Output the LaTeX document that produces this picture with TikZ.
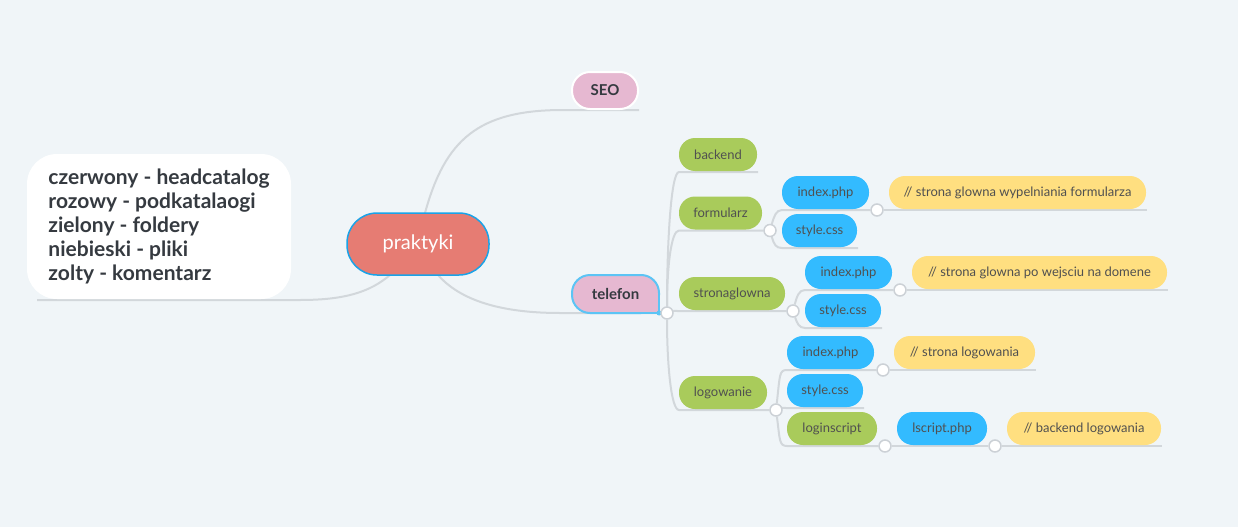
\documentclass[tikz,border=0pt]{standalone}
\usepackage{fontspec}
\setmainfont{Lato}
\usepackage{tikz}
\usetikzlibrary{positioning}
\usepackage{xcolor}

\definecolor{bgcol}{HTML}{F0F5F8}
\definecolor{linegray}{HTML}{D2D7DB}
\definecolor{knobgray}{HTML}{CCD1D6}
\definecolor{salmon}{HTML}{E67C73}
\definecolor{rootblue}{HTML}{1AA3E8}
\definecolor{telblue}{HTML}{5CC4F5}
\definecolor{pinkc}{HTML}{E6B8D1}
\definecolor{greenc}{HTML}{A9CB5B}
\definecolor{bluec}{HTML}{33BBFF}
\definecolor{yellowc}{HTML}{FFDF80}
\definecolor{textgray}{HTML}{505050}
\definecolor{legendgray}{HTML}{353A40}

\pgfdeclarelayer{lines}
\pgfsetlayers{lines,main}

\tikzset{
  branch/.style={draw=linegray, line width=2pt},
  pill/.style={rectangle, rounded corners=16pt, minimum height=33pt, inner sep=0pt,
    outer xsep=0pt, outer ysep=1pt, text=textgray, font=\fontsize{13}{15}\selectfont},
  folder/.style={pill, fill=greenc},
  file/.style={pill, fill=bluec},
  comment/.style={pill, fill=yellowc},
  topic/.style={rectangle, fill=pinkc, draw=white, line width=2pt, rounded corners=18pt,
    minimum height=37pt, inner sep=0pt, outer sep=0pt, text=legendgray,
    font=\fontsize{15}{17}\selectfont\bfseries},
  knob/.style={circle, fill=white, draw=knobgray, line width=1.5pt, minimum size=12pt, inner sep=0pt},
}

\begin{document}
\begin{tikzpicture}[x=1pt,y=-1pt]

\begin{pgfonlayer}{lines}
\fill[bgcol] (0,0) rectangle (1238,527);
\end{pgfonlayer}
\useasboundingbox (0,0) rectangle (1238,527);

% legend and centre
\node[rectangle, fill=white, rounded corners=30pt, minimum width=264pt, minimum height=145pt,
  inner sep=0pt, outer sep=0pt, align=left, text=legendgray,
  font=\fontsize{21}{24}\selectfont\bfseries] (legend) at (159,226.5)
  {czerwony - headcatalog\\rozowy - podkatalaogi\\zielony - foldery\\niebieski - pliki\\zolty - komentarz};
\node[rectangle, fill=salmon, draw=rootblue, line width=1.5pt, rounded corners=30pt,
  minimum width=142pt, minimum height=62pt, inner sep=0pt, outer sep=0pt, text=white,
  font=\fontsize{20}{22}\selectfont] (praktyki) at (418,244) {praktyki};

% first level
\node[topic, minimum width=66pt] (seo) at (605,90.5) {SEO};
\node[topic, draw=telblue, minimum width=87pt, minimum height=38pt] (telefon) at (615.5,294) {telefon};
\fill[pinkc] ([xshift=-19pt]telefon.south east) rectangle ([yshift=19pt]telefon.south east);
\draw[telblue, line width=2pt] ([xshift=-19pt]telefon.south east) -- (telefon.south east) -- ([yshift=19pt]telefon.south east);
\fill[telblue] (telefon.south east) circle (2.5pt);

% telefon
\node[folder, minimum width=78pt] (backend) at (718,154.5) {backend};
\node[folder, minimum width=83pt] (formularz) at (720.5,213) {formularz};
\node[folder, minimum width=106pt] (stronaglowna) at (732,293.5) {stronaglowna};
\node[folder, minimum width=88pt] (logowanie) at (723,392.5) {logowanie};

% formularz
\node[file, minimum width=87pt] (indexf) at (825.5,192.5) {index.php};
\node[file, minimum width=75pt] (stylef) at (819.5,230.5) {style.css};
\node[comment, minimum width=257pt] (commentf) at (1017.5,192.5) {// strona glowna wypelniania formularza};

% stronaglowna
\node[file, minimum width=87pt] (indexs) at (848.5,272.5) {index.php};
\node[file, minimum width=76pt] (styles) at (843,310.5) {style.css};
\node[comment, minimum width=255pt] (comments) at (1039.5,272.5) {// strona glowna po wejsciu na domene};

% logowanie
\node[file, minimum width=87pt] (indexl) at (830.5,352.5) {index.php};
\node[file, minimum width=76pt] (stylel) at (825,390.5) {style.css};
\node[folder, minimum width=90pt] (loginscript) at (832,428.5) {loginscript};
\node[comment, minimum width=141pt] (commentl) at (964.5,352.5) {// strona logowania};
\node[file, minimum width=90pt] (lscript) at (942,428.5) {lscript.php};
\node[comment, minimum width=154pt] (commentb) at (1084,428.5) {// backend logowania};

% knobs
\node[knob] (ktelefon) at ([xshift=8pt]telefon.south east) {};
\node[knob] (kformularz) at ([xshift=8pt]formularz.south east) {};
\node[knob] (kindexf) at ([xshift=8pt]indexf.south east) {};
\node[knob] (kstrona) at ([xshift=8pt]stronaglowna.south east) {};
\node[knob] (kindexs) at ([xshift=8pt]indexs.south east) {};
\node[knob] (klogowanie) at ([xshift=9pt]logowanie.south east) {};
\node[knob] (kindexl) at ([xshift=9pt]indexl.south east) {};
\node[knob] (kloginscript) at ([xshift=8pt]loginscript.south east) {};
\node[knob] (klscript) at ([xshift=8pt]lscript.south east) {};

\begin{pgfonlayer}{lines}
% centre
\draw[branch] ([xshift=-28pt]praktyki.south) .. controls +(-20,17) and +(45,0) .. ([xshift=9pt,yshift=-1pt]legend.south east) -- ([xshift=10pt,yshift=-1pt]legend.south west);
\draw[branch] ([xshift=7pt]praktyki.north) .. controls +(20,-73) and +(-85,0) .. ([xshift=-9pt,yshift=-1pt]seo.south west) -- ([xshift=1pt,yshift=-1pt]seo.south east);
\draw[branch] ([xshift=20pt]praktyki.south) .. controls +(22,25) and +(-60,0) .. ([xshift=-12pt]telefon.south west) -- (ktelefon);
% telefon
\draw[branch] (ktelefon) .. controls +(0,-70) and +(-8,0) .. (backend.south west) -- ([xshift=1pt]backend.south east);
\draw[branch] (ktelefon) .. controls +(0,-45) and +(-8,0) .. (formularz.south west) -- (kformularz);
\draw[branch] (ktelefon) .. controls +(5,-2) and +(-5,0) .. (stronaglowna.south west) -- (kstrona);
\draw[branch] (ktelefon) .. controls +(0,50) and +(-8,0) .. (logowanie.south west) -- (klogowanie);
% formularz
\draw[branch] (kformularz) .. controls +(4,-14) and +(-6,0) .. (indexf.south west) -- (kindexf);
\draw[branch] (kformularz) .. controls +(4,14) and +(-6,0) .. (stylef.south west) -- ([xshift=1pt]stylef.south east);
\draw[branch] (kindexf) -- (commentf.south west) -- ([xshift=1pt]commentf.south east);
% stronaglowna
\draw[branch] (kstrona) .. controls +(4,-15) and +(-6,0) .. (indexs.south west) -- (kindexs);
\draw[branch] (kstrona) .. controls +(4,12) and +(-6,0) .. (styles.south west) -- ([xshift=1pt]styles.south east);
\draw[branch] (kindexs) -- (comments.south west) -- ([xshift=1pt]comments.south east);
% logowanie
\draw[branch] (klogowanie) .. controls +(4,-35) and +(-8,0) .. (indexl.south west) -- (kindexl);
\draw[branch] (klogowanie) .. controls +(4,-2) and +(-5,0) .. (stylel.south west) -- ([xshift=1pt]stylel.south east);
\draw[branch] (klogowanie) .. controls +(4,30) and +(-8,0) .. (loginscript.south west) -- (kloginscript);
\draw[branch] (kindexl) -- (commentl.south west) -- ([xshift=1pt]commentl.south east);
\draw[branch] (kloginscript) -- (lscript.south west) -- (klscript);
\draw[branch] (klscript) -- (commentb.south west) -- ([xshift=1pt]commentb.south east);
\end{pgfonlayer}

\end{tikzpicture}
\end{document}
